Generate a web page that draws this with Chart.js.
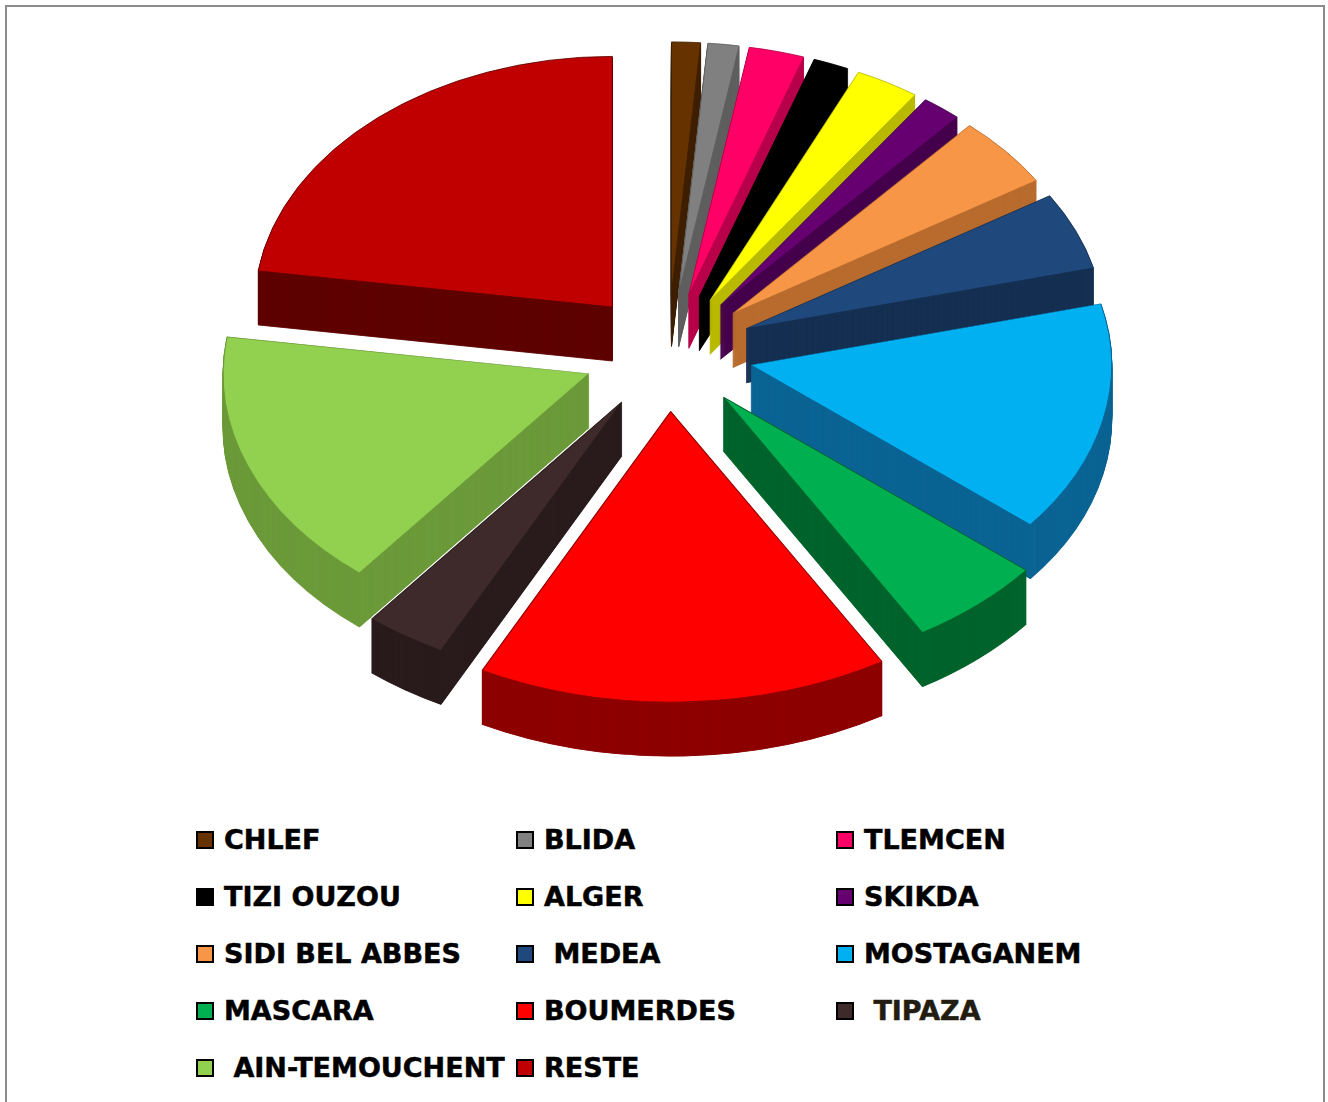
<!DOCTYPE html>
<html>
<head>
<meta charset="utf-8">
<script src="https://cdn.jsdelivr.net/npm/chart.js@4.4.1/dist/chart.umd.min.js"></script>
<style>
  body { margin:0; background:#fff; width:1328px; height:1102px; overflow:hidden; position:relative; }
  #frame { position:absolute; left:5px; top:5px; width:1320px; height:1130px; border:2px solid #8c8c8c; box-sizing:border-box; }
  #pie { position:absolute; left:0; top:0; }
  #legend { position:absolute; left:196px; top:811px; display:grid; grid-template-columns:320px 320px 320px; grid-auto-rows:57px; font:bold 27px "DejaVu Sans"; }
  .item { display:flex; align-items:center; white-space:pre; }
  .item span:last-child { -webkit-text-stroke:0.5px currentColor; }
  .box { width:14px; height:14px; border:2px solid #000; margin-right:10px; flex:none; }
</style>
</head>
<body>
<div id="frame"></div>
<canvas id="pie" width="1328" height="800"></canvas>
<div id="legend"></div>
<script>
// wilayas, share of total (%)
const labels = ['CHLEF','BLIDA','TLEMCEN','TIZI OUZOU','ALGER','SKIKDA','SIDI BEL ABBES',' MEDEA','MOSTAGANEM','MASCARA','BOUMERDES',' TIPAZA',' AIN-TEMOUCHENT','RESTE'];
const shares = [1.3, 1.4, 2.5, 1.6, 2.9, 1.8, 4.6, 5.0, 14.8, 5.6, 16.0, 3.3, 16.5, 22.7];

const topColors  = ['#663300','#808080','#ff0066','#000000','#ffff00','#660070','#f79646','#1f497d','#00b0f0','#00b050','#ff0000','#3e2a2b','#92d050','#c00000'];
const sideColors = ['#3f1f00','#5e5e5e','#b8004a','#000000','#b9b900','#45004c','#b86c2e','#152f52','#0b6494','#00642c','#8e0000','#2a1c1d','#6c9a3a','#5e0000'];
const labelInk   = ['#000','#000','#000','#000','#000','#000','#000','#000','#000','#000','#000','#221d10','#000','#000'];

const TILT = 0.7;        // vertical squash of the disc
const EXPLODE = 85;      // how far each slice is pulled out
const DEPTH = 54;        // thickness of the slices
const PERSPECTIVE = 0.16; // front slices drawn a bit larger

function midAngle(arc) { return (arc.startAngle + arc.endAngle) / 2; }

function place(ctx, arc, dx, dy, s) {
  ctx.translate(arc.x + dx, arc.y + dy);
  ctx.scale(s, s * TILT);
  ctx.translate(-arc.x, -arc.y);
}

// draws the pie as exploded 3d slices, back to front
const pie3d = {
  id: 'pie3d',
  beforeDatasetsDraw(chart) {
    const ctx = chart.ctx;
    const arcs = chart.getDatasetMeta(0).data;
    const order = arcs.map((a, i) => i)
      .sort((i, j) => Math.sin(midAngle(arcs[i])) - Math.sin(midAngle(arcs[j])));
    order.forEach(i => {
      const arc = arcs[i];
      const opts = arc.options;
      const m = midAngle(arc);
      const front = Math.max(0, Math.sin(m));
      const s = 1 + PERSPECTIVE * front * front;
      const dx = Math.cos(m) * EXPLODE;
      const dy = Math.sin(m) * EXPLODE * TILT;
      arc.options = Object.assign({}, opts, { backgroundColor: sideColors[i], borderColor: sideColors[i] });
      for (let d = DEPTH; d > 0; d--) {
        ctx.save(); place(ctx, arc, dx, dy + d, s); arc.draw(ctx); ctx.restore();
      }
      arc.options = opts;
      ctx.save(); place(ctx, arc, dx, dy, s); arc.draw(ctx); ctx.restore();
    });
    return false;
  }
};

new Chart(document.getElementById('pie'), {
  type: 'pie',
  data: {
    labels,
    datasets: [{ data: shares, backgroundColor: topColors, borderColor: sideColors, borderWidth: 1, radius: 358 }]
  },
  options: {
    responsive: false,
    animation: false,
    events: [],
    layout: { padding: { left: 8, right: 0, top: 0, bottom: 96 } },
    plugins: { legend: { display: false }, tooltip: { enabled: false } }
  },
  plugins: [pie3d]
});

const legend = document.getElementById('legend');
labels.forEach((name, i) => {
  const item = document.createElement('div');
  item.className = 'item';
  const box = document.createElement('span');
  box.className = 'box';
  box.style.background = topColors[i];
  const txt = document.createElement('span');
  txt.textContent = name;
  txt.style.color = labelInk[i];
  item.appendChild(box);
  item.appendChild(txt);
  legend.appendChild(item);
});
</script>
</body>
</html>
